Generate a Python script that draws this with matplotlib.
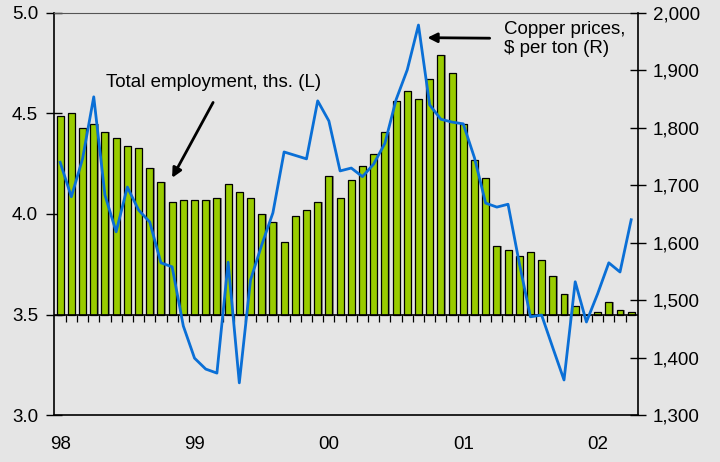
import matplotlib.pyplot as plt
import numpy as np

plt.rcParams["font.family"] = ["Liberation Sans", "DejaVu Sans"]

# monthly data, Jan 1998 - Apr 2002
employment = [4.49, 4.50, 4.43, 4.45, 4.41, 4.38, 4.34, 4.33, 4.23, 4.16, 4.06, 4.07,
              4.07, 4.07, 4.08, 4.15, 4.11, 4.08, 4.00, 3.96, 3.86, 3.99, 4.02, 4.06,
              4.19, 4.08, 4.17, 4.24, 4.30, 4.41, 4.56, 4.61, 4.57, 4.67, 4.79, 4.70,
              4.45, 4.27, 4.18, 3.84, 3.82, 3.79, 3.81, 3.77, 3.69, 3.60, 3.54, 3.50,
              3.51, 3.56, 3.52, 3.51]
copper = [1740, 1680, 1746, 1854, 1683, 1619, 1697, 1657, 1636, 1565, 1558, 1455,
          1399, 1380, 1373, 1566, 1356, 1535, 1596, 1652, 1758, 1752, 1746, 1847,
          1812, 1725, 1730, 1715, 1737, 1773, 1849, 1901, 1979, 1840, 1815, 1810,
          1807, 1748, 1669, 1662, 1667, 1565, 1471, 1474, 1417, 1361, 1532, 1462,
          1511, 1565, 1549, 1640]
year_labels = ["98", "99", "00", "01", "02"]

bg = "#e5e5e5"
base = 3.5
fs = 13.5
x = np.arange(len(employment))
emp = np.array(employment)

fig = plt.figure(figsize=(7.2, 4.62), dpi=100, facecolor=bg)
ax = fig.add_axes([0.075, 0.1017, 0.811, 0.8702], facecolor=bg)

# bars with a faint shadow
ax.bar(x + 0.12, emp - base, bottom=base, width=0.62, color="#8a8a8a", zorder=1)
ax.bar(x, emp - base, bottom=base, width=0.62, color="#99cc00",
       edgecolor="black", linewidth=0.9, zorder=2)

# baseline with monthly ticks
ax.axhline(base, color="black", lw=1.2, zorder=3)
ax.vlines(x[:-1] + 0.5, base - 0.035, base, color="black", lw=0.9, zorder=3)

ax.set_xlim(-0.55, 51.6)
ax.set_ylim(3.0, 5.0)
ax.set_yticks([3.0, 3.5, 4.0, 4.5, 5.0])
ax.set_yticklabels(["3.0", "3.5", "4.0", "4.5", "5.0"])
ax.set_xticks(x[::12])
ax.set_xticklabels(year_labels)
ax.tick_params(axis="x", length=0, pad=15, labelsize=fs)
ax.tick_params(axis="y", direction="inout", length=12, width=1, pad=5.5, labelsize=fs)

for side in ["left", "bottom"]:
    ax.spines[side].set_linewidth(1.2)
ax.spines["top"].set_color("#555555")
ax.spines["right"].set_visible(False)

ax2 = ax.twinx()
ax2.plot(x, copper, color="#0a6fd6", lw=2.0, zorder=4)
ax2.set_ylim(1300, 2000)
ax2.set_yticks(range(1300, 2001, 100))
ax2.set_yticklabels([f"{v:,}" for v in range(1300, 2001, 100)])
ax2.tick_params(axis="y", direction="inout", length=12, width=1, pad=4.5, labelsize=fs)
ax2.spines["right"].set_linewidth(1.2)
ax2.spines["left"].set_visible(False)
ax2.spines["top"].set_visible(False)
ax2.spines["bottom"].set_visible(False)

# annotations
ax.text(13.66, 4.655, "Total employment, ths. (L)", ha="center", va="center", fontsize=fs)
ax.annotate("", xy=(10.0, 4.18), xytext=(13.66, 4.555),
            arrowprops=dict(arrowstyle="-|>", color="black", lw=2, mutation_scale=14,
                            shrinkA=0, shrinkB=0))
ax2.annotate("Copper prices,\n$ per ton (R)", xy=(32.8, 1957), xytext=(39.6, 1955),
             ha="left", va="center", fontsize=fs, linespacing=1.2,
             arrowprops=dict(arrowstyle="-|>", color="black", lw=2, mutation_scale=14,
                             shrinkA=8, shrinkB=0))

fig.savefig("out.png", dpi=100, facecolor=bg)
